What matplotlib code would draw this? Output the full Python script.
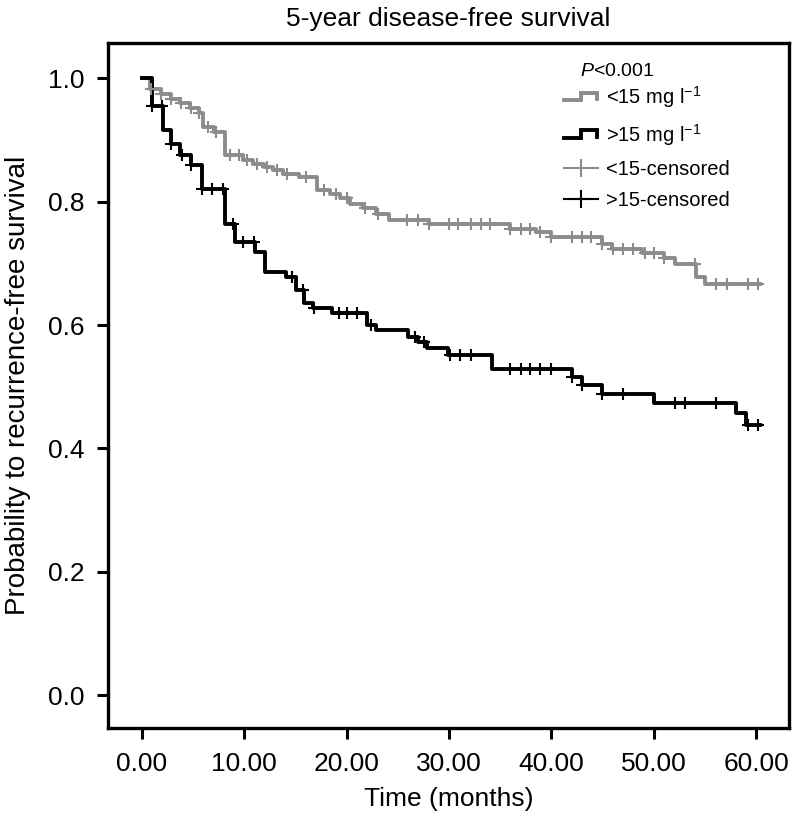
import numpy as np
import matplotlib
matplotlib.use('Agg')
import matplotlib.pyplot as plt
from matplotlib.lines import Line2D
from matplotlib.legend_handler import HandlerBase

plt.rcParams['font.family'] = ['Liberation Sans', 'DejaVu Sans']
plt.rcParams['mathtext.fontset'] = 'custom'
plt.rcParams['mathtext.rm'] = 'Liberation Sans'
plt.rcParams['mathtext.it'] = 'Liberation Sans:italic'

# Kaplan-Meier steps, <15 mg/l group
low_t = [0, 0.8, 1.9, 2.9, 3.7, 4.7, 5.6, 6.0, 7.1, 8.1, 9.9, 10.9, 11.9, 12.8,
         13.8, 15.4, 17.1, 18.4, 19.4, 20.3, 21.6, 22.9, 24.1, 28.0, 36.0, 38.5,
         40.0, 44.9, 45.9, 48.8, 51.0, 52.1, 54.1, 55.0, 60.4]
low_s = [1.0, 0.983, 0.975, 0.967, 0.959, 0.951, 0.943, 0.921, 0.913, 0.875, 0.867,
         0.861, 0.856, 0.851, 0.845, 0.840, 0.818, 0.813, 0.805, 0.796, 0.789, 0.780,
         0.770, 0.764, 0.756, 0.751, 0.743, 0.732, 0.723, 0.716, 0.708, 0.699, 0.678,
         0.667, 0.667]
low_cens = [0.9, 1.9, 2.9, 3.8, 4.8, 5.6, 6.5, 7.2, 8.6, 9.5, 10.3, 11.3, 12.2, 13.2,
            14.2, 16.0, 17.8, 19.0, 20.0, 21.8, 23.1, 25.9, 27.0, 28.0, 30.0, 30.9,
            32.1, 33.1, 34.0, 36.0, 37.0, 37.9, 38.9, 40.0, 42.0, 43.0, 43.9, 44.9,
            46.0, 47.0, 48.0, 49.1, 50.0, 51.0, 54.0, 56.1, 57.1, 59.2, 60.2]

# >15 mg/l group
high_t = [0, 1.0, 2.1, 2.9, 3.7, 4.8, 5.9, 8.1, 9.1, 11.1, 12.0, 14.1, 15.1, 15.8,
          16.7, 18.6, 22.0, 22.9, 26.0, 27.0, 27.9, 29.9, 34.2, 42.0, 43.0, 44.9,
          50.0, 58.0, 59.0, 60.4]
high_s = [1.0, 0.955, 0.916, 0.894, 0.875, 0.859, 0.821, 0.764, 0.735, 0.718, 0.686,
          0.678, 0.656, 0.635, 0.627, 0.620, 0.600, 0.592, 0.581, 0.573, 0.562, 0.551,
          0.529, 0.516, 0.502, 0.489, 0.474, 0.457, 0.438, 0.438]
high_cens = [1.0, 2.0, 2.9, 3.9, 4.8, 5.9, 6.9, 7.9, 8.9, 9.9, 11.0, 14.7, 15.7, 16.8,
             19.3, 20.0, 21.0, 22.4, 26.7, 27.6, 30.1, 31.1, 32.1, 36.0, 37.0, 37.9,
             38.9, 40.0, 42.0, 43.0, 44.9, 47.0, 52.1, 53.0, 56.1, 59.2, 60.2]

gray = '#8c8c8c'


def step_value(t_steps, s_steps, t):
    idx = np.searchsorted(t_steps, t, side='right') - 1
    return np.asarray(s_steps)[idx]


class StepHandler(HandlerBase):
    def create_artists(self, legend, orig_handle, xdescent, ydescent,
                       width, height, fontsize, trans):
        xs = np.array([0, 0.5, 0.5, 0.95, 0.95]) * width - xdescent
        ys = np.array([0.25, 0.25, 0.8, 0.8, 0.35]) * height - ydescent
        ln = Line2D(xs, ys, color=orig_handle.get_color(),
                    lw=orig_handle.get_linewidth(), solid_joinstyle='miter')
        ln.set_transform(trans)
        return [ln]


fig = plt.figure(figsize=(7.94, 8.25), dpi=100)
ax = fig.add_axes([0.136, 0.1176, 0.8577, 0.8303])

l1, = ax.step(low_t, low_s, where='post', color=gray, lw=2.8)
l2, = ax.step(high_t, high_s, where='post', color='black', lw=2.8)
ax.plot(low_cens, step_value(low_t, low_s, low_cens), ls='none', marker='+',
        ms=9, mew=1.5, color=gray)
ax.plot(high_cens, step_value(high_t, high_s, high_cens), ls='none', marker='+',
        ms=9, mew=1.5, color='black')

ax.set_xlim(-3.3, 63.2)
ax.set_ylim(-0.053, 1.057)
ax.set_xticks(np.arange(0, 61, 10))
ax.set_xticklabels(['%.2f' % v for v in np.arange(0, 61, 10)])
ax.set_yticks(np.arange(0, 1.01, 0.2))
ax.set_yticklabels(['%.1f' % v for v in np.arange(0, 1.01, 0.2)])
ax.tick_params(labelsize=19, length=8, width=2.2, pad=9)
for sp in ax.spines.values():
    sp.set_linewidth(2.4)

ax.set_title('5-year disease-free survival', fontsize=19, pad=12)
ax.set_xlabel('Time (months)', fontsize=19, labelpad=8)
ax.set_ylabel('Probability to recurrence-free survival', fontsize=20, labelpad=12)

ax.text(0.747, 0.958, '$P$<0.001', transform=ax.transAxes, ha='center',
        va='center', fontsize=14)
h1 = Line2D([], [], color=gray, marker='+', lw=1.5, ms=13, mew=1.5)
h2 = Line2D([], [], color='black', marker='+', lw=1.5, ms=13, mew=1.5)
ax.legend([l1, l2, h1, h2],
          ['<15 mg l$^{-1}$', '>15 mg l$^{-1}$', '<15-censored', '>15-censored'],
          handler_map={l1: StepHandler(), l2: StepHandler()},
          loc='upper left', bbox_to_anchor=(0.67, 0.94), frameon=False,
          fontsize=14.5, handlelength=1.7, handletextpad=0.35, labelspacing=0.6,
          borderpad=0, borderaxespad=0)

fig.savefig('out.png', dpi=100)
